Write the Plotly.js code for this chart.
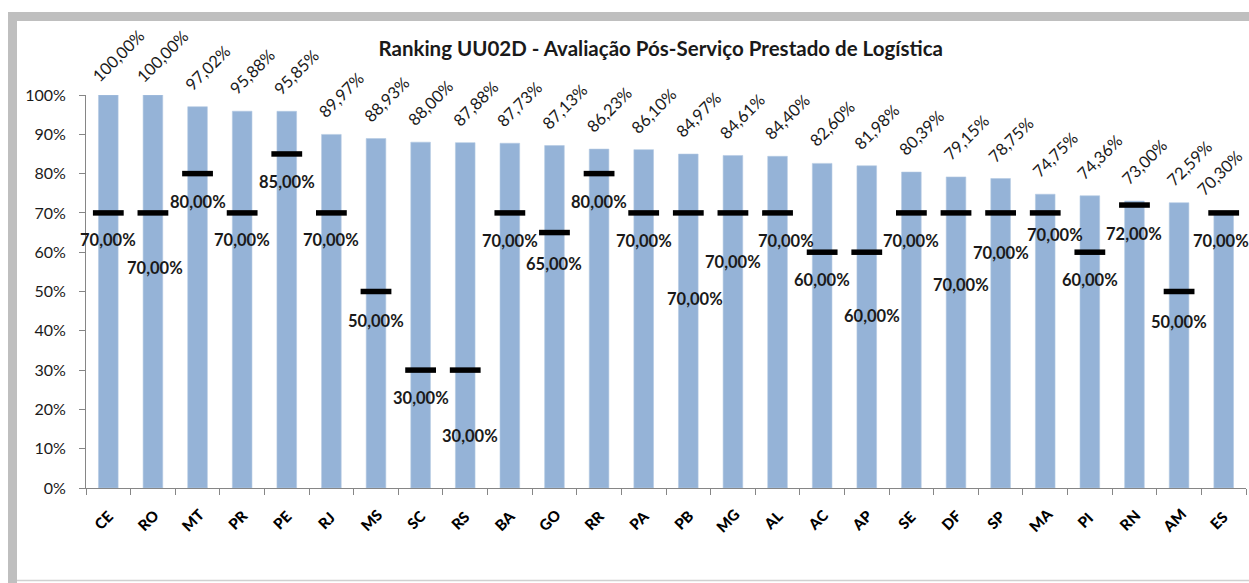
<!DOCTYPE html>
<html>
<head>
<meta charset="utf-8">
<script src="https://cdn.plot.ly/plotly-3.0.1.min.js"></script>
<style>
  html, body { margin: 0; padding: 0; background: #ffffff; }
  #chart { width: 1249px; height: 583px; }
</style>
</head>
<body>
<div id="chart"></div>
<script>
// ---- Data ----
const categories = ['CE','RO','MT','PR','PE','RJ','MS','SC','RS','BA','GO','RR','PA','PB','MG','AL','AC','AP','SE','DF','SP','MA','PI','RN','AM','ES'];
const results = [100.00, 100.00, 97.02, 95.88, 95.85, 89.97, 88.93, 88.00, 87.88, 87.73, 87.13, 86.23, 86.10, 84.97, 84.61, 84.40, 82.60, 81.98, 80.39, 79.15, 78.75, 74.75, 74.36, 73.00, 72.59, 70.30];
const targets = [70, 70, 80, 70, 85, 70, 50, 30, 30, 70, 65, 80, 70, 70, 70, 70, 60, 60, 70, 70, 70, 70, 60, 72, 50, 70];
const yTickValues = [0, 10, 20, 30, 40, 50, 60, 70, 80, 90, 100];
const yTickLabels = ['0%', '10%', '20%', '30%', '40%', '50%', '60%', '70%', '80%', '90%', '100%'];
const titleText = 'Ranking UU02D - Avaliação Pós-Serviço Prestado de Logística';

// ---- Layout-only label placement (pixel offsets of the target labels) ----
const targetLabelDown = [27, 55, 28, 27, 28, 27, 29, 28, 66, 28, 31, 28, 28, 86, 49, 28, 28, 64, 28, 72, 40, 22, 28, 29, 30, 28];
const targetLabelRight = [0, 2, 0, 0, 0, 0, 0, 0, 5, 0, 0, 0, 0, 7, 0, 8, 0, 5, 0, 5, 0, 10, 0, 0, 0, -3];

const fmt = v => v.toFixed(2).replace('.', ',') + '%';
const FONT = 'Lato, "Open Sans", "DejaVu Sans", sans-serif';
const HEAVY = '"Lato Heavy", "Lato Black", "Lato Semibold", Lato, "Open Sans", sans-serif';
const TXT = '#1a1a1a';
const AXIS = '#868686';

const barTrace = {
  type: 'bar',
  x: categories,
  y: results,
  width: 0.44,
  marker: { color: '#95B3D7', line: { color: '#B4C9E3', width: 0.6 } },
  hoverinfo: 'x+y',
  showlegend: false
};

const targetTrace = {
  type: 'scatter',
  mode: 'markers',
  x: categories,
  y: targets,
  marker: { symbol: 'line-ew', size: 22, color: '#000000', line: { color: '#000000', width: 5.5 } },
  cliponaxis: false,
  showlegend: false
};

// invisible trace on a linear overlay axis that carries the between-category tick marks
const boundaryTrace = {
  type: 'scatter', mode: 'none',
  x: [-0.5, categories.length - 0.5], y: [0, 0],
  xaxis: 'x2', yaxis: 'y',
  hoverinfo: 'skip', showlegend: false
};

const annotations = [];
categories.forEach((c, i) => {
  // value label above the bar
  annotations.push({
    x: c, y: results[i], xref: 'x', yref: 'y',
    text: fmt(results[i]),
    showarrow: false,
    textangle: -45,
    xshift: i === categories.length - 1 ? -4 : 10,
    yshift: 39,
    font: { family: FONT, size: 16.5, color: TXT }
  });
  // target label
  annotations.push({
    x: c, y: targets[i], xref: 'x', yref: 'y',
    text: '<b>' + fmt(targets[i]) + '</b>',
    showarrow: false,
    xshift: targetLabelRight[i],
    yshift: -targetLabelDown[i],
    font: { family: FONT, size: 16.5, color: TXT }
  });
  // rotated category label (centre of the rotated text below the axis)
  annotations.push({
    x: c, y: 0, xref: 'x', yref: 'y',
    text: c,
    showarrow: false,
    textangle: -45,
    xshift: -5,
    yshift: -32,
    font: { family: HEAVY, size: 15, color: '#000000' }
  });
});

// Frame (converted from pixel edges to paper coords: plot area x 86..1246, y 95..488)
const px = v => (v - 86) / 1160;
const py = v => (488 - v) / 393;
const shapes = [
  { type: 'rect', xref: 'paper', yref: 'paper', x0: px(8), x1: px(1252), y0: py(21), y1: py(12), fillcolor: '#BFBFBF', line: { width: 0 }, layer: 'below' },
  { type: 'rect', xref: 'paper', yref: 'paper', x0: px(8), x1: px(17), y0: py(586), y1: py(12), fillcolor: '#BFBFBF', line: { width: 0 }, layer: 'below' },
  { type: 'line', xref: 'paper', yref: 'paper', x0: px(17), x1: px(1252), y0: py(580.5), y1: py(580.5), line: { color: '#D0D0D0', width: 1.5 }, layer: 'below' }
];

const boundaryTicks = categories.map((c, i) => i - 0.5).concat([categories.length - 0.5]);

const layout = {
  width: 1249,
  height: 583,
  margin: { l: 86, r: 3, t: 95, b: 95 },
  paper_bgcolor: '#ffffff',
  plot_bgcolor: '#ffffff',
  font: { family: FONT, color: TXT },
  title: {
    text: '<b>' + titleText + '</b>',
    xref: 'container', x: 0.529, xanchor: 'center',
    yref: 'container', y: 0.916, yanchor: 'middle',
    font: { family: FONT, size: 20.5, color: TXT }
  },
  xaxis: {
    type: 'category',
    range: [-0.5, categories.length - 0.5],
    showline: true, linecolor: AXIS, linewidth: 1,
    ticks: '', showticklabels: false,
    showgrid: false, zeroline: false, fixedrange: true
  },
  xaxis2: {
    overlaying: 'x', anchor: 'y', side: 'bottom',
    range: [-0.5, categories.length - 0.5],
    tickmode: 'array', tickvals: boundaryTicks, showticklabels: false,
    ticks: 'outside', ticklen: 6, tickcolor: AXIS,
    showline: false, showgrid: false, zeroline: false, fixedrange: true
  },
  yaxis: {
    range: [0, 100],
    tickmode: 'array', tickvals: yTickValues, ticktext: yTickLabels,
    showline: true, linecolor: AXIS, linewidth: 1,
    ticks: 'outside', ticklen: 6, tickcolor: AXIS,
    ticklabelstandoff: 10,
    tickfont: { family: FONT, size: 16, color: TXT },
    showgrid: false, zeroline: false, fixedrange: true
  },
  annotations: annotations,
  shapes: shapes,
  showlegend: false
};

Plotly.newPlot('chart', [barTrace, targetTrace, boundaryTrace], layout, { displayModeBar: false, staticPlot: true });
</script>
</body>
</html>
